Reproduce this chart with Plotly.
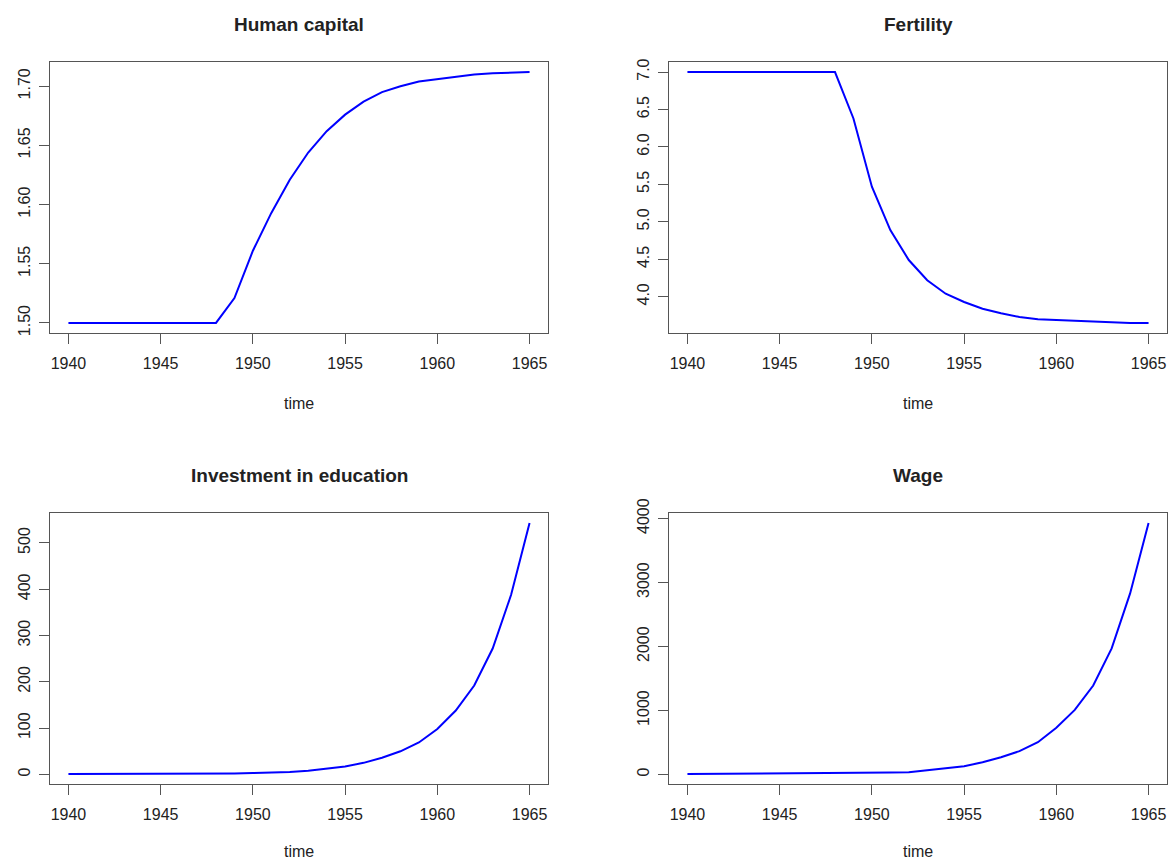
import plotly.graph_objects as go

# ---------------- data ----------------
years = list(range(1940, 1966))

human_capital = [1.500, 1.500, 1.500, 1.500, 1.500, 1.500, 1.500, 1.500, 1.500,
                 1.521, 1.561, 1.593, 1.621, 1.644, 1.662, 1.676, 1.687, 1.695,
                 1.700, 1.704, 1.706, 1.708, 1.710, 1.711, 1.7115, 1.712]

fertility = [7.00, 7.00, 7.00, 7.00, 7.00, 7.00, 7.00, 7.00, 7.00,
             6.38, 5.47, 4.89, 4.49, 4.22, 4.04, 3.93, 3.84, 3.78,
             3.73, 3.70, 3.69, 3.675, 3.66, 3.66, 3.65, 3.65]

investment = [1, 1, 1, 1, 1, 1.2, 1.3, 1.5, 1.7, 2.2, 3, 4, 5.5, 8, 12, 17,
              25, 36, 50, 69, 98, 138, 192, 272, 388, 543]

wage = [8, 9, 10, 11, 12, 13, 14, 20, 22, 24, 27, 30, 35, 70, 100, 130,
        190, 270, 365, 505, 730, 1010, 1390, 1970, 2830, 3930]

titles = ["Human capital", "Fertility", "Investment in education", "Wage"]
x_label = "time"
x_ticks = [1940, 1945, 1950, 1955, 1960, 1965]
y_ticks = [
    [1.50, 1.55, 1.60, 1.65, 1.70],
    [4.0, 4.5, 5.0, 5.5, 6.0, 6.5, 7.0],
    [0, 100, 200, 300, 400, 500],
    [0, 1000, 2000, 3000, 4000],
]
y_ticktext = [
    ["1.50", "1.55", "1.60", "1.65", "1.70"],
    ["4.0", "4.5", "5.0", "5.5", "6.0", "6.5", "7.0"],
    ["0", "100", "200", "300", "400", "500"],
    ["0", "1000", "2000", "3000", "4000"],
]
series = [human_capital, fertility, investment, wage]

# ---------------- layout geometry (pixels) ----------------
W, H = 1169, 860
boxes = [  # left, right, top, bottom
    (50, 548, 62, 333),
    (669, 1167, 62, 333),
    (50, 548, 513, 784),
    (669, 1167, 513, 784),
]
xlabel_offsets = [70, 70, 67, 67]

FONT = "Liberation Sans, Arial, Helvetica, sans-serif"
TEXT = "#222222"
BOX = "#555555"
LINE = "#0000FF"


def ext_range(v):
    lo, hi = min(v), max(v)
    r = hi - lo
    return [lo - 0.04 * r, hi + 0.04 * r]


fig = go.Figure()
annotations = []
for i, (vals, (l, r, t, b)) in enumerate(zip(series, boxes)):
    n = "" if i == 0 else str(i + 1)
    fig.add_trace(go.Scatter(
        x=years, y=vals, mode="lines",
        line=dict(color=LINE, width=2),
        xaxis="x" + n, yaxis="y" + n, showlegend=False,
        hoverinfo="x+y",
    ))
    xr = ext_range(years)
    yr = ext_range(vals)
    common = dict(
        showline=True, mirror=True, linecolor=BOX, linewidth=1,
        ticks="outside", ticklen=10, tickcolor=BOX, tickwidth=1,
        showgrid=False, zeroline=False, automargin=False,
        tickfont=dict(family=FONT, size=16, color=TEXT),
    )
    fig.update_layout(**{
        "xaxis" + n: dict(
            common, domain=[l / W, r / W], range=xr,
            anchor="y" + n, tickvals=x_ticks,
            ticktext=[str(v) for v in x_ticks],
            ticklabelstandoff=6,
        ),
        "yaxis" + n: dict(
            common, domain=[1 - b / H, 1 - t / H], range=yr,
            anchor="x" + n, tickvals=y_ticks[i], ticktext=y_ticktext[i],
            tickangle=-90, ticklabelstandoff=3,
        ),
    })
    cx = (l + r) / 2 / W
    annotations.append(dict(
        text="<b>" + titles[i] + "</b>", x=cx, y=1 - (t - 38) / H,
        xref="paper", yref="paper", showarrow=False,
        xanchor="center", yanchor="middle",
        font=dict(family=FONT, size=19, color=TEXT),
    ))
    annotations.append(dict(
        text=x_label, x=cx, y=1 - (b + xlabel_offsets[i]) / H,
        xref="paper", yref="paper", showarrow=False,
        xanchor="center", yanchor="middle",
        font=dict(family=FONT, size=16, color=TEXT),
    ))

fig.update_layout(
    width=W, height=H,
    margin=dict(l=0, r=0, t=0, b=0, autoexpand=False),
    paper_bgcolor="white", plot_bgcolor="white",
    annotations=annotations,
    showlegend=False,
)

fig.write_html(
    "out.html",
    config={"displayModeBar": False},
    post_script="document.body.style.margin='0';document.body.style.overflow='hidden';",
)
